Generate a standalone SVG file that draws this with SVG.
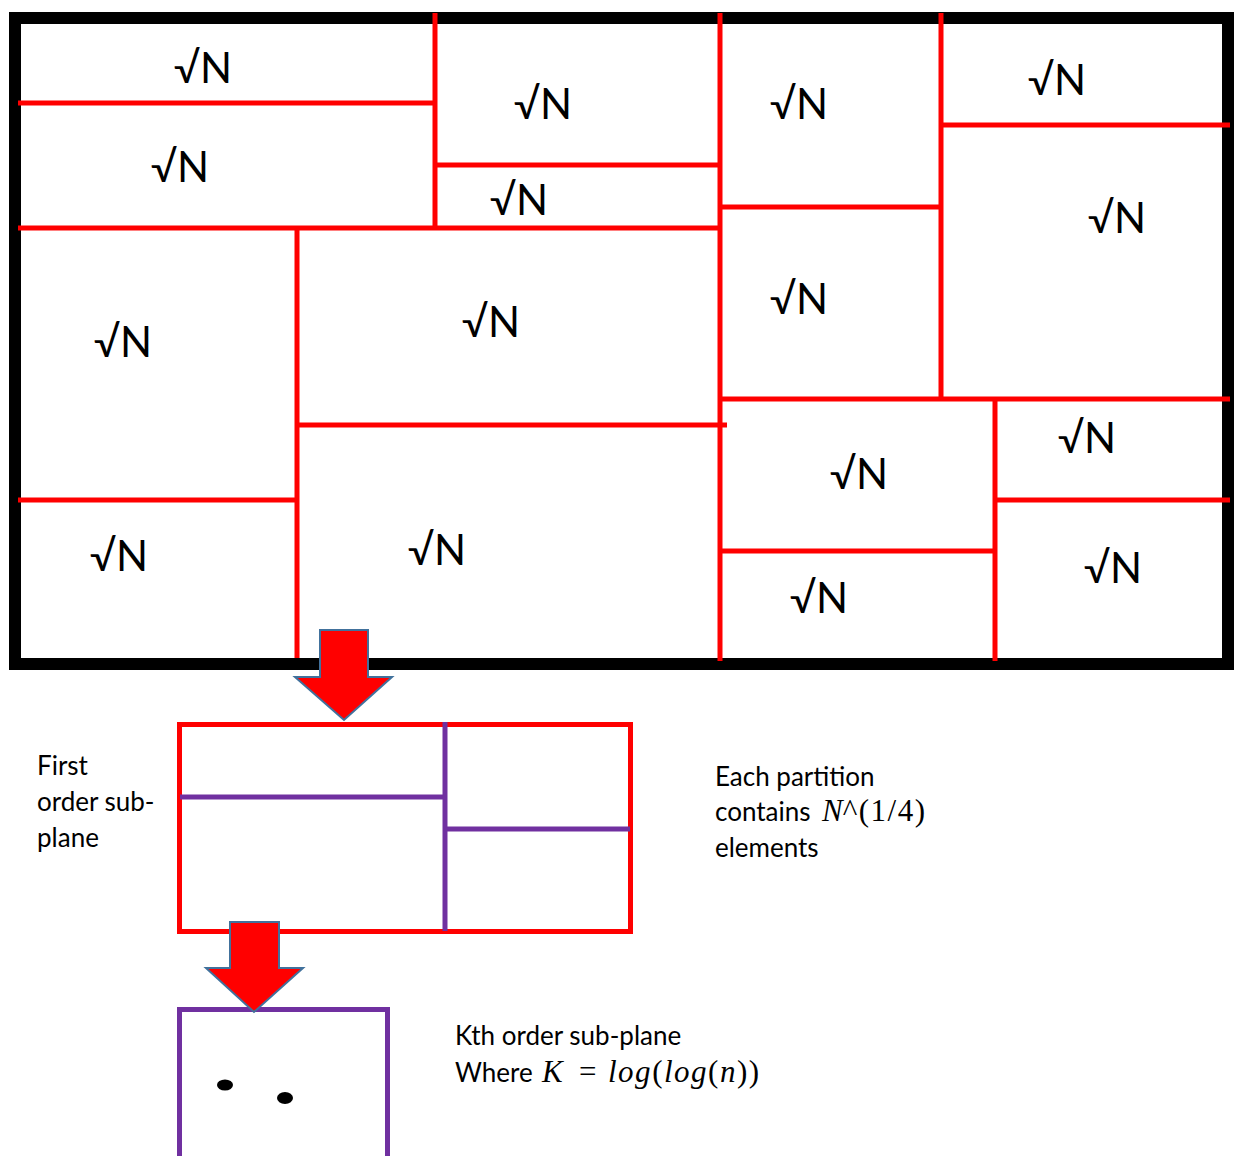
<svg xmlns="http://www.w3.org/2000/svg" width="1237" height="1156" viewBox="0 0 1237 1156">
  <style>
    .frame { fill: none; stroke: #000000; stroke-width: 12; }
    .cut { stroke: #FF0000; stroke-width: 5; fill: none; }
    .sub { stroke: #7030A0; stroke-width: 5; fill: none; }
    .box-red { fill: #FFFFFF; stroke: #FF0000; stroke-width: 5; }
    .arrow { fill: #FF0000; stroke: #41719C; stroke-width: 2; stroke-linejoin: miter; }
    .lbl { font-family: Lato, "Liberation Sans", sans-serif; font-size: 42px; fill: #000000; text-anchor: middle; }
    .note { font-family: Lato, "Liberation Sans", sans-serif; font-size: 26px; fill: #000000; }
    .math { font-family: "Liberation Serif", "DejaVu Serif", serif; font-style: italic; font-size: 31px; }
    .mathup { font-family: "Liberation Serif", "DejaVu Serif", serif; font-size: 31px; }
    .dot { fill: #000000; }
  </style>

  <rect width="1237" height="1156" fill="#FFFFFF"/>

  <!-- the plane, partitioned into sqrt(N)-sized cells -->
  <g id="plane">
    <rect class="frame" x="15" y="18" width="1213" height="646"/>
    <g id="partition-lines">
      <line class="cut" x1="435" y1="13" x2="435" y2="228"/>
      <line class="cut" x1="18" y1="103" x2="435" y2="103"/>
      <line class="cut" x1="18" y1="228" x2="720" y2="228"/>
      <line class="cut" x1="435" y1="165" x2="718" y2="165"/>
      <line class="cut" x1="720" y1="13" x2="720" y2="661"/>
      <line class="cut" x1="297" y1="228" x2="297" y2="658"/>
      <line class="cut" x1="18" y1="500" x2="297" y2="500"/>
      <line class="cut" x1="297" y1="425" x2="727" y2="425"/>
      <line class="cut" x1="720" y1="399" x2="1230" y2="399"/>
      <line class="cut" x1="941" y1="13" x2="941" y2="399"/>
      <line class="cut" x1="941" y1="125" x2="1230" y2="125"/>
      <line class="cut" x1="720" y1="207" x2="941" y2="207"/>
      <line class="cut" x1="995" y1="399" x2="995" y2="661"/>
      <line class="cut" x1="995" y1="500" x2="1230" y2="500"/>
      <line class="cut" x1="720" y1="551" x2="995" y2="551"/>
    </g>
    <g id="cell-labels">
      <text class="lbl" x="203" y="83">√N</text>
      <text class="lbl" x="180" y="182">√N</text>
      <text class="lbl" x="543" y="119">√N</text>
      <text class="lbl" x="519" y="215">√N</text>
      <text class="lbl" x="799" y="119">√N</text>
      <text class="lbl" x="1057" y="95">√N</text>
      <text class="lbl" x="1117" y="233">√N</text>
      <text class="lbl" x="491" y="337">√N</text>
      <text class="lbl" x="123" y="357">√N</text>
      <text class="lbl" x="799" y="314">√N</text>
      <text class="lbl" x="1087" y="453">√N</text>
      <text class="lbl" x="859" y="489">√N</text>
      <text class="lbl" x="119" y="571">√N</text>
      <text class="lbl" x="437" y="565">√N</text>
      <text class="lbl" x="1113" y="583">√N</text>
      <text class="lbl" x="819" y="613">√N</text>
    </g>
  </g>

  <!-- first order sub-plane -->
  <g id="first-order">
    <rect class="box-red" x="179.5" y="724.5" width="451" height="207"/>
    <line class="sub" x1="445" y1="722" x2="445" y2="931"/>
    <line class="sub" x1="180" y1="797" x2="445" y2="797"/>
    <line class="sub" x1="445" y1="829" x2="630" y2="829"/>
  </g>

  <!-- kth order sub-plane -->
  <g id="kth-order">
    <path class="sub" d="M179.5,1160 V1009.5 H387.5 V1160"/>
    <ellipse class="dot" cx="225" cy="1085" rx="8" ry="5.5"/>
    <ellipse class="dot" cx="285" cy="1098" rx="8" ry="6"/>
  </g>

  <!-- descent arrows between levels -->
  <g id="connectors">
    <path class="arrow" d="M320,630 H368 V677 H392 L344,720 L295,677 H320 Z"/>
    <path class="arrow" d="M230,922 H279 V968 H303 L254,1012 L206,968 H230 Z"/>
  </g>

  <g id="note-first">
    <text class="note" x="37" y="775">First</text>
    <text class="note" x="37" y="811">order sub-</text>
    <text class="note" x="37" y="847">plane</text>
  </g>

  <g id="note-partition">
    <text class="note" x="715" y="786">Each partition</text>
    <text class="note" x="715" y="821">contains <tspan class="math" x="822">N</tspan><tspan class="mathup" letter-spacing="1.5">^(1/4)</tspan></text>
    <text class="note" x="715" y="857">elements</text>
  </g>

  <g id="note-kth">
    <text class="note" x="455" y="1045">Kth order sub-plane</text>
    <text class="note" x="455" y="1082">Where <tspan class="math" x="542">K</tspan><tspan class="mathup" x="579">=</tspan><tspan class="math" x="608" letter-spacing="1.5">log</tspan><tspan class="mathup" letter-spacing="1.5">(</tspan><tspan class="math" letter-spacing="1.5">log</tspan><tspan class="mathup" letter-spacing="1.5">(</tspan><tspan class="math" letter-spacing="1.5">n</tspan><tspan class="mathup" letter-spacing="1.5">))</tspan></text>
  </g>
</svg>
